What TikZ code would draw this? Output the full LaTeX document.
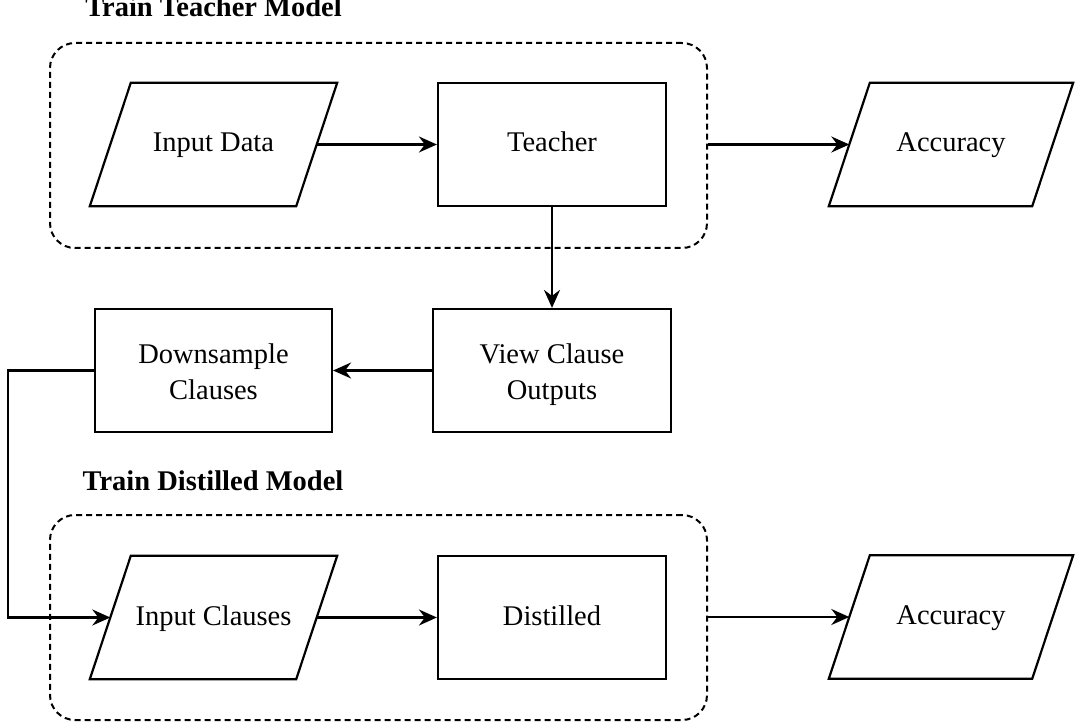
\documentclass[tikz,border=0pt]{standalone}
\usepackage{fontspec}
\setmainfont{Liberation Serif}
\usetikzlibrary{arrows.meta}
\begin{document}
\begin{tikzpicture}[x=1pt,y=-1pt,
  every node/.style={font=\fontsize{28.5}{36}\selectfont},
  line/.style={line width=2.2pt, draw=black, line join=miter},
  conn/.style={line width=2.2pt, draw=black, -{Stealth[length=18pt,width=16pt,inset=6pt]}},
  oneline/.style={text height=22pt, text depth=7pt},
  twoline/.style={text height=58pt, text depth=0pt},
  procbox/.style={draw=black, line width=2.2pt, minimum width=228pt, minimum height=123pt, align=center, inner sep=0pt},
  databox/.style={minimum width=206pt, minimum height=123pt, align=center, inner sep=0pt, oneline},
  groupbox/.style={draw=black, line width=2pt, dash pattern=on 6pt off 4pt, rounded corners=25pt},
  title/.style={font=\bfseries\fontsize{28.5}{36}\selectfont, anchor=base}
]
\useasboundingbox (0,0) rectangle (1078,727);

% titles
\node[title] (t1) at (213.5,17) {Train Teacher Model};
\node[title] (t2) at (213,490) {Train Distilled Model};

% group boxes
\node[groupbox, minimum width=657pt, minimum height=205pt, inner sep=0pt] (g1) at (378.5,145.5) {};
\node[groupbox, minimum width=657pt, minimum height=205pt, inner sep=0pt] (g2) at (378.5,617.5) {};

% nodes
\node[databox] (indata) at (213.5,144.5) {Input Data};
\node[procbox, oneline] (teacher) at (552,144.5) {Teacher};
\node[databox, minimum width=203pt] (acc1) at (951,144.5) {Accuracy};
\node[procbox, twoline, minimum width=238pt] (view) at (552,370.5) {View Clause\\Outputs};
\node[procbox, twoline, minimum width=237pt] (down) at (213.5,370.5) {Downsample\\Clauses};
\node[databox] (inclauses) at (213.5,617.5) {Input Clauses};
\node[procbox, oneline] (distilled) at (552,617.5) {Distilled};
\node[databox, minimum width=203pt] (acc2) at (951,617) {Accuracy};

% parallelogram outlines
\foreach \n in {indata,acc1,inclauses,acc2}{
  \draw[line] ([xshift=-20.5pt]\n.south west) -- ([xshift=20.5pt]\n.north west)
    -- ([xshift=20.5pt]\n.north east) -- ([xshift=-20.5pt]\n.south east) -- cycle;
}

% connectors
\draw[conn] (indata.east) -- (teacher.west);
\draw[conn] (g1.east |- teacher.east) -- (acc1.west);
\draw[conn] (teacher.south) -- (view.north);
\draw[conn] (view.west) -- (down.east);
\coordinate (bend) at (8,370.5);
\draw[conn] (down.west) -- (bend) |- (inclauses.west);
\draw[conn] (inclauses.east) -- (distilled.west);
\draw[conn] (g2.east |- acc2.west) -- (acc2.west);
\end{tikzpicture}
\end{document}
